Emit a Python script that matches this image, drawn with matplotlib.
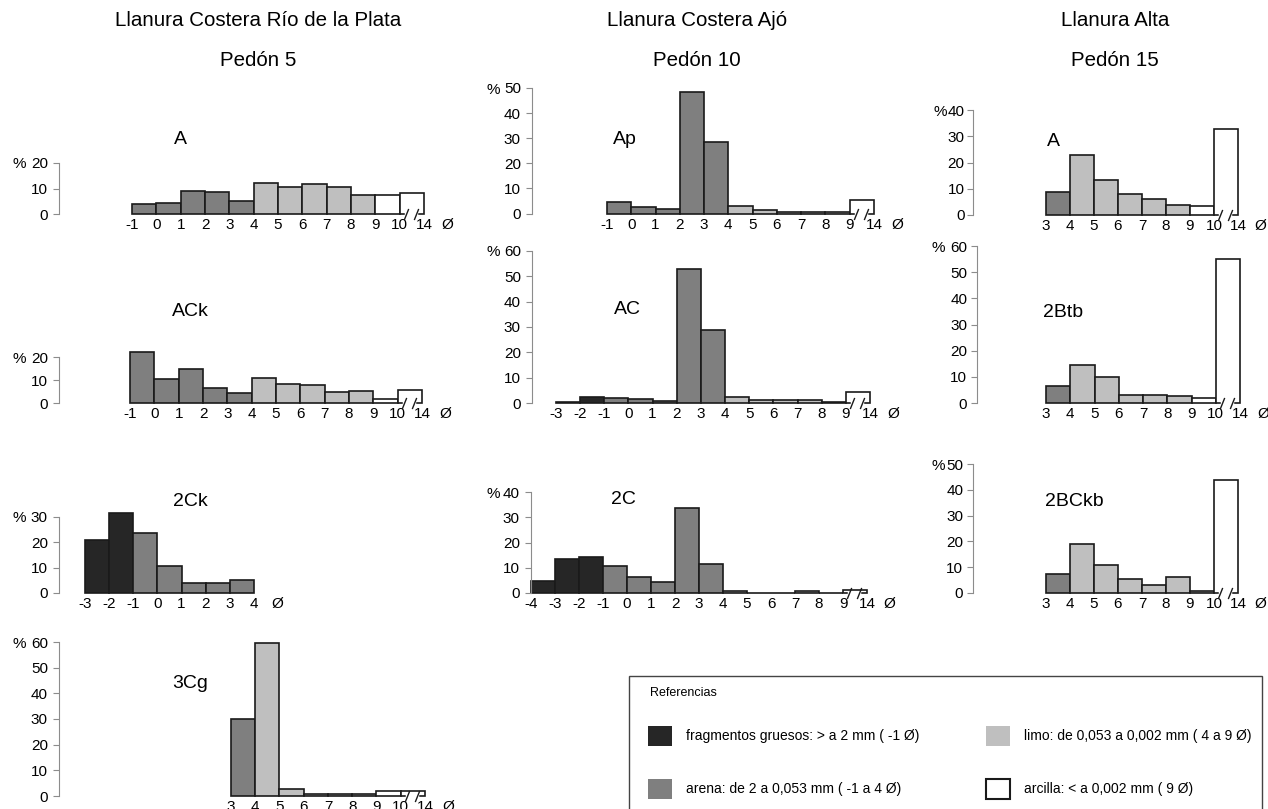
import matplotlib
matplotlib.use('Agg')
import matplotlib.pyplot as plt
from matplotlib.patches import Rectangle

plt.rcParams['font.family'] = ['Liberation Sans', 'DejaVu Sans']

# ---- datos (% por fraccion, intervalos en phi) ----
# Pedon 5 - Llanura Costera Rio de la Plata
p5_A_lim = ['-1', '0', '1', '2', '3', '4', '5', '6', '7', '8', '9', '10', '14']
p5_A_val = [4.0, 4.5, 9.0, 8.5, 5.0, 12.3, 10.7, 11.6, 10.7, 7.6, 7.6, 8.1]
p5_A_frac = ['a', 'a', 'a', 'a', 'a', 'l', 'l', 'l', 'l', 'l', 'c', 'c']

p5_ACk_lim = ['-1', '0', '1', '2', '3', '4', '5', '6', '7', '8', '9', '10', '14']
p5_ACk_val = [22.3, 10.3, 15.0, 6.6, 4.4, 11.0, 8.3, 7.7, 5.0, 5.4, 1.7, 5.6]
p5_ACk_frac = ['a', 'a', 'a', 'a', 'a', 'l', 'l', 'l', 'l', 'l', 'c', 'c']

p5_2Ck_lim = ['-3', '-2', '-1', '0', '1', '2', '3', '4']
p5_2Ck_val = [21.0, 31.7, 23.6, 10.6, 3.8, 3.8, 5.0]
p5_2Ck_frac = ['g', 'g', 'a', 'a', 'a', 'a', 'a']

p5_3Cg_lim = ['3', '4', '5', '6', '7', '8', '9', '10', '14']
p5_3Cg_val = [30.0, 59.7, 2.9, 0.9, 0.9, 0.9, 1.8, 1.8]
p5_3Cg_frac = ['a', 'l', 'l', 'l', 'l', 'l', 'c', 'c']

# Pedon 10 - Llanura Costera Ajo
p10_Ap_lim = ['-1', '0', '1', '2', '3', '4', '5', '6', '7', '8', '9', '14']
p10_Ap_val = [4.4, 2.4, 1.7, 48.6, 28.6, 2.9, 1.2, 0.7, 0.7, 0.7, 5.5]
p10_Ap_frac = ['a', 'a', 'a', 'a', 'a', 'l', 'l', 'l', 'l', 'l', 'c']

p10_AC_lim = ['-3', '-2', '-1', '0', '1', '2', '3', '4', '5', '6', '7', '8', '9', '14']
p10_AC_val = [0.5, 2.5, 2.0, 1.5, 0.9, 52.8, 28.9, 2.4, 1.0, 1.0, 1.0, 0.5, 4.2]
p10_AC_frac = ['g', 'g', 'a', 'a', 'a', 'a', 'a', 'l', 'l', 'l', 'l', 'l', 'c']

p10_2C_lim = ['-4', '-3', '-2', '-1', '0', '1', '2', '3', '4', '5', '6', '7', '8', '9', '14']
p10_2C_val = [4.7, 13.5, 14.4, 10.8, 6.3, 4.2, 33.6, 11.4, 0.7, 0, 0, 0.7, 0, 1.2]
p10_2C_frac = ['g', 'g', 'g', 'a', 'a', 'a', 'a', 'a', 'l', 'l', 'l', 'l', 'l', 'c']

# Pedon 15 - Llanura Alta
p15_A_lim = ['3', '4', '5', '6', '7', '8', '9', '10', '14']
p15_A_val = [8.6, 22.9, 13.2, 8.1, 6.2, 3.7, 3.3, 32.8]
p15_A_frac = ['a', 'l', 'l', 'l', 'l', 'l', 'c', 'c']

p15_2Btb_lim = ['3', '4', '5', '6', '7', '8', '9', '10', '14']
p15_2Btb_val = [6.6, 14.7, 10.0, 3.0, 3.0, 2.5, 2.0, 55.0]
p15_2Btb_frac = ['a', 'l', 'l', 'l', 'l', 'l', 'c', 'c']

p15_2BCkb_lim = ['3', '4', '5', '6', '7', '8', '9', '10', '14']
p15_2BCkb_val = [7.5, 19.0, 11.0, 5.6, 3.0, 6.1, 0.7, 43.9]
p15_2BCkb_frac = ['a', 'l', 'l', 'l', 'l', 'l', 'l', 'c']

colores = {'g': '#262626', 'a': '#7f7f7f', 'l': '#bfbfbf', 'c': 'white'}

W, H = 1268, 809
fig = plt.figure(figsize=(W / 100, H / 100), dpi=100)


def panel(spine_x, bar_x0, bar_x1, y0, ytop, ymax, lims, vals, frac,
          nombre, nombre_xy, pct_x, ypad=4, corte=True):
    n = len(vals)
    w = (bar_x1 - bar_x0) / n
    right = bar_x1 + w * 1.3
    ax = fig.add_axes([spine_x / W, 1 - y0 / H, (right - spine_x) / W, (y0 - ytop) / H])
    ax.patch.set_visible(False)
    ax.set_xlim(-(bar_x0 - spine_x) / w, n + 1.3)
    ax.set_ylim(0, ymax)
    ax.bar(range(n), vals, width=1, align='edge',
           color=[colores[f] for f in frac], edgecolor='#1a1a1a',
           linewidth=1.2, clip_on=False)
    for s in ['top', 'right', 'bottom']:
        ax.spines[s].set_visible(False)
    ax.spines['left'].set_color('#8c8c8c')
    ax.set_yticks(range(0, ymax + 1, 10))
    ax.tick_params(axis='y', length=4, color='#8c8c8c', pad=ypad, labelsize=11)
    ax.set_xticks(list(range(n + 1)) + [n + 0.95])
    ax.set_xticklabels(lims + ['Ø'])
    ax.tick_params(axis='x', length=0, pad=3, labelsize=11)
    if corte:
        xa, xb = n - 1 + 0.27, n - 1 + 0.67
        ax.plot([xa, xb], [0, 0], color='white', lw=2.5, clip_on=False, zorder=3)
        ax.plot([xa, xb], [0, 0], ls='none', marker=[(-0.4, -1), (0.4, 1)],
                ms=8, mec='#1a1a1a', mew=1, clip_on=False, zorder=4)
    fig.text(pct_x / W, 1 - ytop / H, '%', ha='center', va='center_baseline', fontsize=11)
    fig.text(nombre_xy[0] / W, 1 - nombre_xy[1] / H, nombre,
             ha='center', va='center', fontsize=14)
    return ax


# columna 1
panel(59, 132, 424, 214, 163, 20, p5_A_lim, p5_A_val, p5_A_frac, 'A', (180, 140), 19)
panel(59, 130, 422, 403, 357, 20, p5_ACk_lim, p5_ACk_val, p5_ACk_frac, 'ACk', (190, 312), 19)
panel(59, 85, 254, 593, 517, 30, p5_2Ck_lim, p5_2Ck_val, p5_2Ck_frac, '2Ck', (190, 501), 19, corte=False)
panel(59, 231, 425, 796, 642, 60, p5_3Cg_lim, p5_3Cg_val, p5_3Cg_frac, '3Cg', (190, 683), 19)

# columna 2
panel(532, 607, 874, 213.5, 88, 50, p10_Ap_lim, p10_Ap_val, p10_Ap_frac, 'Ap', (625, 140), 493)
panel(532, 556, 870, 403, 251, 60, p10_AC_lim, p10_AC_val, p10_AC_frac, 'AC', (627, 310), 493)
panel(531, 531, 867, 593, 492, 40, p10_2C_lim, p10_2C_val, p10_2C_frac, '2C', (623, 499), 493)

# columna 3
panel(973, 1046, 1238, 215, 110, 40, p15_A_lim, p15_A_val, p15_A_frac, 'A', (1053, 142), 940, ypad=2)
panel(977, 1046, 1240, 403, 246, 60, p15_2Btb_lim, p15_2Btb_val, p15_2Btb_frac, '2Btb', (1063, 313), 938, ypad=3)
panel(973, 1046, 1238, 593, 464, 50, p15_2BCkb_lim, p15_2BCkb_val, p15_2BCkb_frac, '2BCkb', (1074, 502), 938, ypad=3)

# titulos
for cx, paisaje, pedon in [(258, 'Llanura Costera Río de la Plata', 'Pedón 5'),
                           (697, 'Llanura Costera Ajó', 'Pedón 10'),
                           (1115, 'Llanura Alta', 'Pedón 15')]:
    fig.text(cx / W, 1 - 20 / H, paisaje, ha='center', va='center', fontsize=14.8)
    fig.text(cx / W, 1 - 61 / H, pedon, ha='center', va='center', fontsize=14.8)

# referencias
fig.add_artist(Rectangle((629 / W, -0.02), (1262 - 629) / W, 1 - 676 / H + 0.02,
                         transform=fig.transFigure, fill=False, ec='#444444', lw=1))
fig.text(650 / W, 1 - 693 / H, 'Referencias', ha='left', va='center', fontsize=9)
items = [(648, 736, 'g', 'fragmentos gruesos: > a 2 mm ( -1 Ø)'),
         (648, 789, 'a', 'arena: de 2 a 0,053 mm ( -1 a 4 Ø)'),
         (986, 736, 'l', 'limo: de 0,053 a 0,002 mm ( 4 a 9 Ø)'),
         (986, 789, 'c', 'arcilla: < a 0,002 mm ( 9 Ø)')]
for x, y, f, txt in items:
    ec = '#1a1a1a' if f == 'c' else 'none'
    fig.add_artist(Rectangle((x / W, 1 - (y + 10) / H), 24 / W, 20 / H,
                             transform=fig.transFigure, fc=colores[f], ec=ec, lw=1.5))
    fig.text((x + 38) / W, 1 - y / H, txt, ha='left', va='center', fontsize=10)

fig.savefig('out.png', dpi=100)
